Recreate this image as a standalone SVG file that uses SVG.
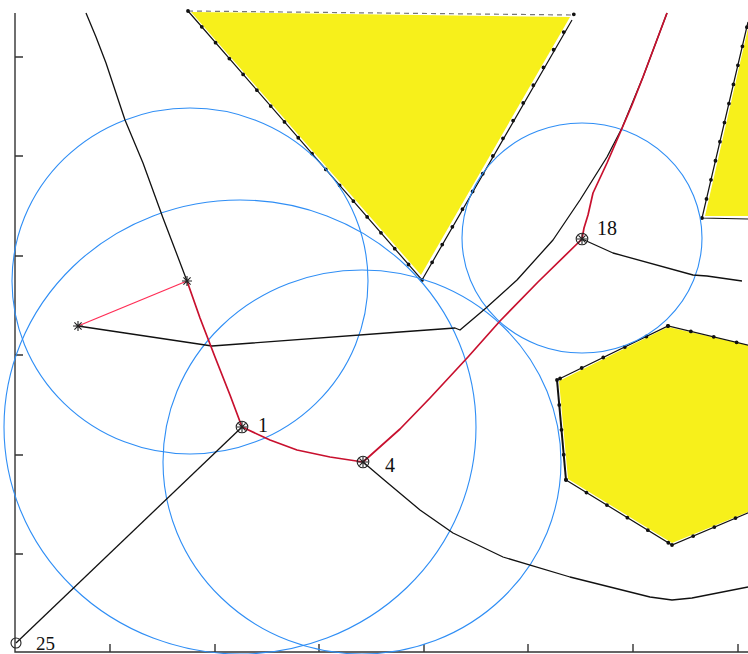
<svg xmlns="http://www.w3.org/2000/svg" width="748" height="654" viewBox="0 0 748 654">
<defs>
<style>
.ax{stroke:#333;stroke-width:1.4;fill:none}
.circ{fill:none;stroke:#2f8ef5;stroke-width:1.1}
.obs{fill:#f7f01b;stroke:none}
.edge{fill:none;stroke:#111;stroke-width:1.2}
.dash{fill:none;stroke:#777;stroke-width:1.2;stroke-dasharray:5 4}
.dots{fill:none;stroke:#111;stroke-width:3.8;stroke-linecap:round}
.path{fill:none;stroke:#111;stroke-width:1.3;stroke-linejoin:round}
.route{fill:none;stroke:#c8102e;stroke-width:1.7;stroke-linejoin:round}
.route2{fill:none;stroke:#ff2d55;stroke-width:1.3}
.mk{fill:none;stroke:#222;stroke-width:1.1}
.lbl{font-family:"Liberation Serif","Times New Roman",serif;font-size:20px;fill:#111}
</style>
<g id="ast"><path d="M-5,0H5M0,-5V5M-3.6,-3.6L3.6,3.6M-3.6,3.6L3.6,-3.6"/></g>
</defs>
<rect width="748" height="654" fill="#fff"/>

<!-- axes -->
<g id="axes" class="ax">
<path d="M15,13V652H748"/>
<path d="M15,57h8M15,156h8M15,256h8M15,355h8M15,455h8M15,554h8"/>
<path d="M110,652v-8M215,652v-8M319,652v-8M424,652v-8M528,652v-8M633,652v-8M738,652v-8"/>
</g>

<!-- obstacles -->
<g id="triangle">
<polygon class="obs" points="191,12 570,17 421,275"/>
<line class="dash" x1="188" y1="11" x2="573" y2="15"/>
<polyline class="edge" points="188,11 422,280 572,20"/>
<line class="dots" x1="188" y1="11" x2="422" y2="280" stroke-dasharray="0 21"/>
<line class="dots" x1="422" y1="280" x2="574" y2="14" stroke-dasharray="0 20.4"/>
</g>
<g id="quad">
<polygon class="obs" points="749,24 705,216 748,216"/>
<polyline class="edge" points="748,22 702,218 748,219"/>
<line class="dots" x1="702" y1="218" x2="750" y2="14" stroke-dasharray="0 19.6"/>
</g>
<g id="hexagon">
<polygon class="obs" points="668,327 559,381 568,479 672,543 790,495 790,355"/>
<polyline class="edge" points="790,355 668,326 557,380"/>
<polyline class="edge" points="566,480 672,545 790,495"/>
<line x1="557" y1="380" x2="566" y2="480" stroke="#111" stroke-width="2"/>
<line class="dots" x1="668" y1="326" x2="790" y2="355" stroke-dasharray="0 23.5"/>
<line class="dots" x1="672" y1="545" x2="790" y2="495" stroke-dasharray="0 23"/>
<line class="dots" x1="668" y1="326" x2="557" y2="380" stroke-dasharray="0 24" stroke-width="2.6"/>
<line class="dots" x1="557" y1="380" x2="566" y2="480" stroke-dasharray="0 25" stroke-width="2.6"/>
<line class="dots" x1="566" y1="480" x2="672" y2="545" stroke-dasharray="0 24" stroke-width="2.6"/>
</g>

<!-- sensing ranges -->
<g id="circles">
<ellipse class="circ" cx="190" cy="281" rx="178" ry="173"/>
<ellipse class="circ" cx="240" cy="427" rx="236" ry="227"/>
<ellipse class="circ" cx="362" cy="462" rx="199" ry="192"/>
<ellipse class="circ" cx="582" cy="238" rx="120" ry="115"/>
</g>

<!-- connectors -->
<g id="connectors">
<polyline class="path" points="86,13 96,37 106,63 125,120 143,163 163,218 176,252 187,281"/>
<polyline class="path" points="78,326 212,346 400,332 455,328 460,330 486,308 517,280 553,240 580,200 607,157 622,128 643,77 667,13"/>
<polyline class="path" points="582,239 613,253 693,275 707,276 742,281"/>
<polyline class="path" points="363,462 383,479 420,510 453,533 503,557 570,577 650,597 672,600 692,598 748,587"/>
<line class="path" x1="242" y1="427" x2="16" y2="643"/>
<line class="route2" x1="78" y1="326" x2="187" y2="281"/>
<polyline class="route" points="187,281 200,318 215,357 230,395 242,427"/>
<polyline class="route" points="242,427 270,440 297,450 330,457 363,462"/>
<polyline class="route" points="363,462 400,429 430,398 468,357 500,321 538,282 582,239"/>
<polyline class="route" points="582,239 584,228 588,215 593,193 607,163 620,133 632,105 643,77 667,13"/>
</g>

<!-- nodes -->
<g id="node-s1" class="mk" stroke="#4a0d14"><use href="#ast" x="187" y="281"/></g>
<g id="node-s2" class="mk" stroke="#4a0d14"><use href="#ast" x="78" y="326"/></g>
<g id="node-1" class="mk"><circle cx="242" cy="427" r="5.8"/><use href="#ast" x="242" y="427"/><text class="lbl" x="258" y="432" stroke="none">1</text></g>
<g id="node-4" class="mk"><circle cx="363" cy="462" r="5.8"/><use href="#ast" x="363" y="462"/><text class="lbl" x="385" y="472" stroke="none">4</text></g>
<g id="node-18" class="mk"><circle cx="582" cy="239" r="5.8"/><use href="#ast" x="582" y="239"/><text class="lbl" x="597" y="235" stroke="none">18</text></g>
<g id="node-25" class="mk"><circle cx="16" cy="643" r="5"/><text class="lbl" x="36" y="650" stroke="none" style="font-size:19px">25</text></g>
</svg>
